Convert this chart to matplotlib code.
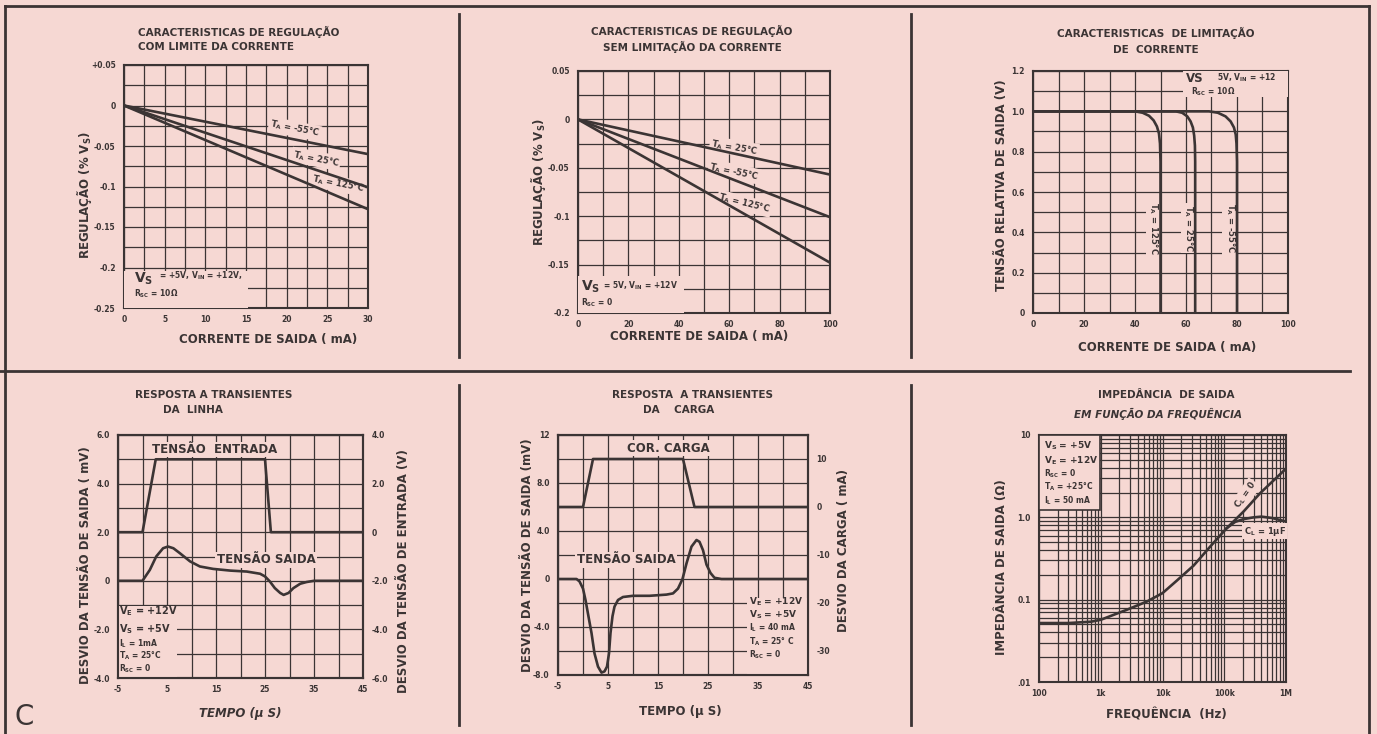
import numpy as np
import matplotlib.pyplot as plt
from matplotlib.lines import Line2D
from matplotlib.patches import Rectangle
from matplotlib.ticker import NullFormatter

plt.rcParams['font.family'] = ['DejaVu Sans']
plt.rcParams['font.weight'] = 'bold'
plt.rcParams['mathtext.default'] = 'regular'

BG = '#f6d8d3'
INK = '#3b3434'
W, H = 1377, 734

# --- regulação com limite da corrente
reg1_x = [0, 30]
reg1_m55 = [0, -0.060]
reg1_25 = [0, -0.101]
reg1_125 = [0, -0.128]
reg1_xticks = [0, 5, 10, 15, 20, 25, 30]
reg1_yticks = [0.05, 0, -0.05, -0.1, -0.15, -0.2, -0.25]
reg1_ylabels = ['+0.05', '0', '-0.05', '-0.1', '-0.15', '-0.2', '-0.25']

# --- regulação sem limitação da corrente
reg2_x = [0, 100]
reg2_25 = [0, -0.057]
reg2_m55 = [0, -0.101]
reg2_125 = [0, -0.148]
reg2_xticks = [0, 20, 40, 60, 80, 100]
reg2_yticks = [0.05, 0, -0.05, -0.1, -0.15, -0.2]
reg2_ylabels = ['0.05', '0', '-0.05', '-0.1', '-0.15', '-0.2']

# --- limitação de corrente
lim125_x = [0, 40, 43, 45.5, 47.3, 48.6, 49.4, 49.8, 50, 50]
lim125_y = [1.0, 1.0, 0.993, 0.978, 0.955, 0.925, 0.89, 0.84, 0.75, 0]
lim25_x = [0, 56, 58.5, 60.5, 61.8, 62.7, 63.2, 63.5, 63.6, 63.6]
lim25_y = [1.0, 1.0, 0.993, 0.975, 0.95, 0.92, 0.88, 0.83, 0.75, 0]
limm55_x = [0, 69, 72.5, 75.5, 77.5, 78.8, 79.5, 79.8, 80, 80]
limm55_y = [1.0, 1.0, 0.993, 0.975, 0.95, 0.92, 0.885, 0.84, 0.75, 0]
lim_xticks = [0, 20, 40, 60, 80, 100]
lim_yticks = [0, 0.2, 0.4, 0.6, 0.8, 1.0, 1.2]
lim_ylabels = ['0', '0.2', '0.4', '0.6', '0.8', '1.0', '1.2']

# --- resposta a transientes da linha
lin_in_t = [-5, 0, 2.7, 25, 26.2, 45]
lin_in_v = [0, 0, 3.0, 3.0, 0, 0]
lin_out_t = [-5, 0, 1.5, 2.8, 4.2, 5.2, 6.3, 7.6, 9.7, 11.7, 14.4, 17.9, 21.3,
             24, 25, 26, 27, 28.1, 28.8, 29.8, 30.8, 32.2, 33.5, 35, 45]
lin_out_v = [0, 0, 0.45, 1.0, 1.34, 1.41, 1.34, 1.14, 0.8, 0.59, 0.49, 0.42, 0.38,
             0.29, 0.18, -0.03, -0.3, -0.5, -0.58, -0.5, -0.3, -0.12, -0.05, 0, 0]
tr_xticks = [-5, 5, 15, 25, 35, 45]
lin_lticks = [6, 4, 2, 0, -2, -4]
lin_llabels = ['6.0', '4.0', '2.0', '0', '-2.0', '-4.0']
lin_rticks = [4, 2, 0, -2, -4, -6]
lin_rlabels = ['4.0', '2.0', '0', '-2.0', '-4.0', '-6.0']

# --- resposta a transientes da carga
car_in_t = [-5, 0, 2, 20, 22.3, 45]
car_in_i = [0, 0, 10, 10, 0, 0]
car_out_t = [-5, -1.3, -0.7, 0, 0.5, 1, 1.7, 2.3, 3, 3.7, 4.3, 4.8, 5.2, 5.5, 5.9,
             6.3, 7, 8, 10, 13.3, 16.7, 18, 19, 19.9, 20.7, 21.7, 22.7, 23.3, 24,
             24.7, 25.5, 26.3, 27.7, 45]
car_out_v = [0, 0, -0.2, -0.8, -1.75, -2.9, -4.5, -6.2, -7.3, -7.8, -7.7, -7.3, -6.2,
             -4.5, -3.1, -2.3, -1.75, -1.5, -1.4, -1.4, -1.3, -1.2, -0.8, 0, 1.3, 2.7,
             3.25, 3.1, 2.4, 1.2, 0.5, 0.1, 0, 0]
car_lticks = [12, 8, 4, 0, -4, -8]
car_llabels = ['12', '8.0', '4.0', '0', '-4.0', '-8.0']
car_rticks = [10, 0, -10, -20, -30]
car_rlabels = ['10', '0', '-10', '-20', '-30']

# --- impedância de saida
imp_f = [100, 300, 700, 1e3, 2.6e3, 5.6e3, 1e4, 1.7e4, 3.2e4, 5.9e4, 1.1e5, 2.04e5, 3.8e5, 1e6]
imp_cl0 = [0.052, 0.052, 0.054, 0.057, 0.075, 0.095, 0.12, 0.17, 0.26, 0.44, 0.74, 1.17, 1.96, 3.9]
imp_f_1u = [1.1e5, 1.5e5, 2.04e5, 3e5, 4e5, 6e5, 1e6]
imp_cl1u = [0.74, 0.88, 0.95, 1.0, 1.02, 0.98, 0.89]
imp_xticks = [100, 1e3, 1e4, 1e5, 1e6]
imp_xlabels = ['100', '1k', '10k', '100k', '1M']
imp_yticks = [0.01, 0.1, 1, 10]
imp_ylabels = ['.01', '0.1', '1.0', '10']

fig = plt.figure(figsize=(W / 100, H / 100), dpi=100)
fig.patch.set_facecolor(BG)


def axes_px(l, t, r, b):
    return fig.add_axes([l / W, 1 - b / H, (r - l) / W, (b - t) / H])


def ftext(x, y, s, size=8.5, **kw):
    kw.setdefault('ha', 'center')
    kw.setdefault('va', 'center')
    fig.text(x / W, 1 - y / H, s, fontsize=size, color=INK, **kw)


def fline(x0, y0, x1, y1, lw=2.0):
    fig.add_artist(Line2D([x0 / W, x1 / W], [1 - y0 / H, 1 - y1 / H], color=INK, lw=lw))


def frame(ax):
    ax.set_facecolor(BG)
    ax.grid(which='both', color=INK, lw=0.9)
    ax.tick_params(which='both', length=0, labelsize=5.5, colors=INK)
    ax.tick_params(axis='y', pad=6)
    ax.tick_params(axis='x', pad=5)
    for s in ax.spines.values():
        s.set_color(INK)
        s.set_linewidth(1.5)


def style(ax, xt, xl, xmin, yt, yl, ymin):
    ax.set_xticks(xt, xl)
    ax.set_xticks(xmin, minor=True)
    ax.set_yticks(yt, yl)
    ax.set_yticks(ymin, minor=True)
    frame(ax)


def right_axis(ax, lo, hi, ticks, labels):
    axr = ax.twinx()
    axr.set_ylim(lo, hi)
    axr.set_yticks(ticks, labels)
    axr.tick_params(length=0, labelsize=5.5, colors=INK, pad=6)
    for s in axr.spines.values():
        s.set_color(INK)
        s.set_linewidth(1.5)
    return axr


def lbl(ax, x, y, s, size=6, rot=0, **kw):
    kw.setdefault('ha', 'center')
    kw.setdefault('va', 'center')
    ax.text(x, y, s, fontsize=size, rotation=rot, color=INK, zorder=4,
            bbox=dict(facecolor=BG, edgecolor='none', pad=1), **kw)


def note(ax, x, y, s, size=5.5, **kw):
    ax.text(x, y, s, fontsize=size, color=INK, zorder=4, va='center', **kw)


def wipe(ax, x, y, w, h):
    ax.add_patch(Rectangle((x, y), w, h, facecolor=BG, edgecolor='none', zorder=3))


LW = 1.9

# panel 1
ax1 = axes_px(124, 65, 368, 308)
style(ax1, reg1_xticks, [str(v) for v in reg1_xticks], np.arange(0, 30.1, 2.5),
      reg1_yticks, reg1_ylabels, np.arange(-0.25, 0.051, 0.025))
ax1.set_xlim(0, 30)
ax1.set_ylim(-0.25, 0.05)
for yy in (reg1_m55, reg1_25, reg1_125):
    ax1.plot(reg1_x, yy, color=INK, lw=LW, zorder=5)
lbl(ax1, 21, -0.029, 'T$_A$ = -55°C', rot=-11)
lbl(ax1, 23.6, -0.066, 'T$_A$ = 25°C', rot=-11)
lbl(ax1, 26.3, -0.097, 'T$_A$ = 125°C', rot=-11)
wipe(ax1, 0, -0.25, 15.3, 0.046)
note(ax1, 1.2, -0.214, 'V$_S$', 10)
note(ax1, 4.3, -0.210, '= +5V, V$_{IN}$ = +12V,')
note(ax1, 1.2, -0.232, 'R$_{SC}$ = 10Ω')
ftext(138, 32, 'CARACTERISTICAS DE REGULAÇÃO', 7.5, ha='left')
ftext(138, 47, 'COM LIMITE DA CORRENTE', 7.5, ha='left')
ftext(84, 195, 'REGULAÇÃO (% V$_S$)', 8.5, rotation=90)
ftext(268, 339, 'CORRENTE DE SAIDA ( mA)', 8.5)

# panel 2
ax2 = axes_px(578, 71, 830, 313)
style(ax2, reg2_xticks, [str(v) for v in reg2_xticks], np.arange(0, 101, 10),
      reg2_yticks, reg2_ylabels, np.arange(-0.2, 0.051, 0.025))
ax2.set_xlim(0, 100)
ax2.set_ylim(-0.2, 0.05)
for yy in (reg2_25, reg2_m55, reg2_125):
    ax2.plot(reg2_x, yy, color=INK, lw=LW, zorder=5)
lbl(ax2, 62, -0.029, 'T$_A$ = 25°C', rot=-10)
lbl(ax2, 62, -0.054, 'T$_A$ = -55°C', rot=-12)
lbl(ax2, 66, -0.087, 'T$_A$ = 125°C', rot=-14)
wipe(ax2, 0, -0.2, 42, 0.038)
note(ax2, 1.2, -0.173, 'V$_S$', 10)
note(ax2, 10, -0.172, '= 5V, V$_{IN}$ = +12V')
note(ax2, 1.2, -0.189, 'R$_{SC}$ = 0')
ftext(692, 31, 'CARACTERISTICAS DE REGULAÇÃO', 7.5)
ftext(692, 47, 'SEM LIMITAÇÃO DA CORRENTE', 7.5)
ftext(539, 182, 'REGULAÇÃO (% V$_S$)', 8.5, rotation=90)
ftext(699, 337, 'CORRENTE DE SAIDA ( mA)', 8.5)

# panel 3
ax3 = axes_px(1033, 71, 1288, 313)
style(ax3, lim_xticks, [str(v) for v in lim_xticks], np.arange(0, 101, 10),
      lim_yticks, lim_ylabels, np.arange(0, 1.21, 0.1))
ax3.set_xlim(0, 100)
ax3.set_ylim(0, 1.2)
ax3.plot(lim125_x, lim125_y, color=INK, lw=LW, zorder=5)
ax3.plot(lim25_x, lim25_y, color=INK, lw=LW, zorder=5)
ax3.plot(limm55_x, limm55_y, color=INK, lw=LW, zorder=5)
lbl(ax3, 47.3, 0.42, 'T$_A$ = 125°C', rot=270)
lbl(ax3, 61.0, 0.42, 'T$_A$ = 25°C', rot=270)
lbl(ax3, 77.3, 0.42, 'T$_A$ = -55°C', rot=270)
wipe(ax3, 59, 1.07, 41, 0.13)
note(ax3, 60, 1.165, 'VS', 8.5)
note(ax3, 72, 1.165, '5V, V$_{IN}$ = +12')
note(ax3, 62, 1.098, 'R$_{SC}$ = 10Ω')
ftext(1156, 33, 'CARACTERISTICAS  DE LIMITAÇÃO', 7.5)
ftext(1156, 50, 'DE  CORRENTE', 7.5)
ftext(1001, 185, 'TENSÃO RELATIVA DE SAIDA (V)', 8.5, rotation=90)
ftext(1167, 348, 'CORRENTE DE SAIDA ( mA)', 8.5)

# panel 4
ax4 = axes_px(118, 435, 363, 678)
style(ax4, tr_xticks, [str(v) for v in tr_xticks], np.arange(-5, 46, 5),
      lin_lticks, lin_llabels, np.arange(-4, 6.1, 1))
ax4.set_xlim(-5, 45)
ax4.set_ylim(-4, 6)
ax4.plot(lin_out_t, lin_out_v, color=INK, lw=LW, zorder=5)
ax4r = right_axis(ax4, -6, 4, lin_rticks, lin_rlabels)
ax4r.plot(lin_in_t, lin_in_v, color=INK, lw=LW, zorder=5)
lbl(ax4, 14.7, 5.4, 'TENSÃO  ENTRADA', size=8.5)
lbl(ax4, 25.2, 0.86, 'TENSÃO SAIDA', size=8.5)
wipe(ax4, -5, -4, 12, 2.95)
note(ax4, -4.8, -1.25, 'V$_E$ = +12V', 7)
note(ax4, -4.8, -2.0, 'V$_S$ = +5V', 7)
note(ax4, -4.8, -2.6, 'I$_L$ = 1mA')
note(ax4, -4.8, -3.08, 'T$_A$ = 25°C')
note(ax4, -4.8, -3.6, 'R$_{SC}$ = 0')
ftext(135, 395, 'RESPOSTA A TRANSIENTES', 7.5, ha='left')
ftext(163, 410, 'DA  LINHA', 7.5, ha='left')
ftext(85, 565, 'DESVIO DA TENSÃO DE SAIDA ( mV)', 8.5, rotation=90)
ftext(403, 571, 'DESVIO DA TENSÃO DE ENTRADA (V)', 8.5, rotation=90)
ftext(240, 713, 'TEMPO (µ S)', 8.5, style='italic')

# panel 5
ax5 = axes_px(558, 435, 808, 675)
style(ax5, tr_xticks, [str(v) for v in tr_xticks], np.arange(-5, 46, 5),
      car_lticks, car_llabels, np.arange(-8, 12.1, 2))
ax5.set_xlim(-5, 45)
ax5.set_ylim(-8, 12)
ax5.plot(car_out_t, car_out_v, color=INK, lw=LW, zorder=5)
ax5r = right_axis(ax5, -35, 15, car_rticks, car_rlabels)
ax5r.plot(car_in_t, car_in_i, color=INK, lw=LW, zorder=5)
lbl(ax5, 17, 10.9, 'COR. CARGA', size=8.5)
lbl(ax5, 8.6, 1.6, 'TENSÃO SAIDA', size=8.5)
wipe(ax5, 32.8, -8, 12.2, 6.4)
note(ax5, 33.2, -1.9, 'V$_E$ = +12V', 6.5)
note(ax5, 33.2, -3.0, 'V$_S$ = +5V', 6.5)
note(ax5, 33.2, -4.1, 'I$_L$ = 40 mA')
note(ax5, 33.2, -5.2, 'T$_A$ = 25° C')
note(ax5, 33.2, -6.3, 'R$_{SC}$ = 0')
ftext(692, 395, 'RESPOSTA  A TRANSIENTES', 7.5)
ftext(679, 410, 'DA    CARGA', 7.5)
ftext(527, 555, 'DESVIO DA TENSÃO DE SAIDA (mV)', 8.5, rotation=90)
ftext(843, 550, 'DESVIO DA CARGA ( mA)', 8.5, rotation=90)
ftext(680, 712, 'TEMPO (µ S)', 8.5)

# panel 6
ax6 = axes_px(1039, 435, 1286, 682)
ax6.set_xscale('log')
ax6.set_yscale('log')
ax6.set_xlim(100, 1e6)
ax6.set_ylim(0.01, 10)
ax6.set_xticks(imp_xticks, imp_xlabels)
ax6.set_yticks(imp_yticks, imp_ylabels)
ax6.xaxis.set_minor_formatter(NullFormatter())
ax6.yaxis.set_minor_formatter(NullFormatter())
frame(ax6)
ax6.plot(imp_f, imp_cl0, color=INK, lw=LW, zorder=5)
ax6.plot(imp_f_1u, imp_cl1u, color=INK, lw=LW, zorder=5)
lbl(ax6, 2.2e5, 1.85, 'C$_L$ = 0', rot=55)
lbl(ax6, 4.5e5, 0.68, 'C$_L$ = 1µF')
ax6.add_patch(Rectangle((0, 0.696), 0.247, 0.304, transform=ax6.transAxes,
                        facecolor=BG, edgecolor=INK, lw=1.2, zorder=3))
note(ax6, 0.02, 0.955, 'V$_S$ = +5V', 6.5, transform=ax6.transAxes)
note(ax6, 0.02, 0.895, 'V$_E$ = +12V', 6.5, transform=ax6.transAxes)
note(ax6, 0.02, 0.845, 'R$_{SC}$ = 0', transform=ax6.transAxes)
note(ax6, 0.02, 0.79, 'T$_A$ = +25°C', transform=ax6.transAxes)
note(ax6, 0.02, 0.735, 'I$_L$ = 50 mA', transform=ax6.transAxes)
ftext(1166, 395, 'IMPEDÂNCIA  DE SAIDA', 7.5)
ftext(1158, 414, 'EM FUNÇÃO DA FREQUÊNCIA', 7.5, style='italic')
ftext(1002, 567, 'IMPEDÂNCIA DE SAIDA (Ω)', 8.5, rotation=90)
ftext(1166, 715, 'FREQUÊNCIA  (Hz)', 8.5)

# frame and dividers
fline(5, 6, 1369, 6)
fline(5, 6, 5, 734)
fline(1369, 6, 1369, 734)
fline(0, 371, 1350, 371)
for xx in (459, 911):
    fline(xx, 14, xx, 357)
    fline(xx, 385, xx, 725)
ftext(24, 717, 'C', 20, weight='normal')

fig.savefig('out.png', dpi=100, facecolor=BG)
